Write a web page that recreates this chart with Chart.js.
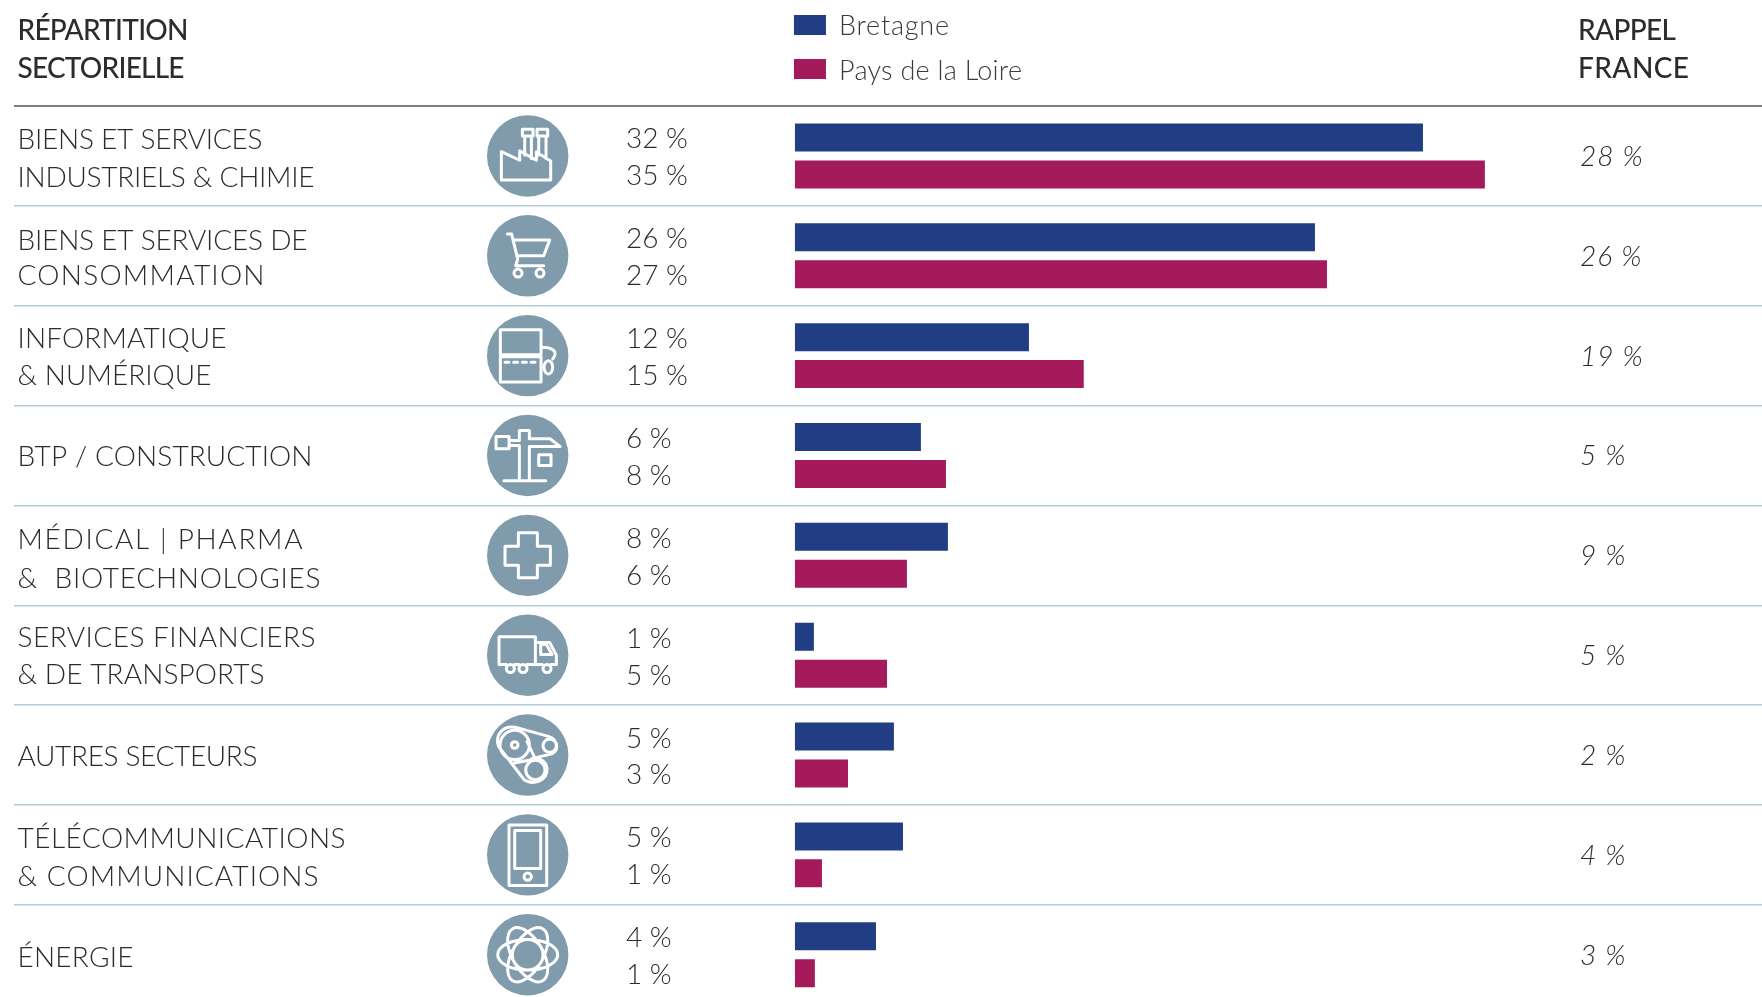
<!DOCTYPE html>
<html lang="fr">
<head>
<meta charset="utf-8">
<title>Répartition sectorielle</title>
<script src="https://cdn.jsdelivr.net/npm/chart.js@4/dist/chart.umd.min.js"></script>
<style>
html,body{margin:0;padding:0;background:#fff;overflow:hidden;width:1762px;height:997px}
#wrap{position:relative;width:1762px;height:1006px}
</style>
</head>
<body>
<div id="wrap"><canvas id="c"></canvas></div>
<script>
const categories = [
  ["BIENS ET SERVICES","INDUSTRIELS & CHIMIE"],
  ["BIENS ET SERVICES DE","CONSOMMATION"],
  ["INFORMATIQUE","& NUMÉRIQUE"],
  ["BTP / CONSTRUCTION"],
  ["MÉDICAL | PHARMA","&  BIOTECHNOLOGIES"],
  ["SERVICES FINANCIERS","& DE TRANSPORTS"],
  ["AUTRES SECTEURS"],
  ["TÉLÉCOMMUNICATIONS","& COMMUNICATIONS"],
  ["ÉNERGIE"]
];
const seriesNames = ["Bretagne","Pays de la Loire"];
const bretagne = [31.86,26.38,11.87,6.39,7.76,0.96,5.02,5.48,4.11];
const paysDeLaLoire = [35.0,26.99,14.65,7.66,5.68,4.67,2.69,1.37,1.01];
const bretagneLabels = ["32 %","26 %","12 %","6 %","8 %","1 %","5 %","5 %","4 %"];
const paysLabels = ["35 %","27 %","15 %","8 %","6 %","5 %","3 %","1 %","1 %"];
const franceLabels = ["28 %","26 %","19 %","5 %","9 %","5 %","2 %","4 %","3 %"];
const colors = ["#213e84","#a41a5b"];
const FONT = "Lato";

// Label layout: text widths and baselines relative to the row centre
const labelWidths = [[245,297],[290,247],[209,194],[295],[285,303],[298,247],[240],[328,301],[116]];
const labelBaselines = [[-6.7,31],[-5.7,29.3],[-7.3,29.8],[10.6],[-6.8,33],[-8.4,29.2],[11.2],[-7.3,30.9],[12.4]];

const txtCol = "#2c2c2e";
function rectP(c,x0,y0,x1,y1){c.moveTo(x0,y0);c.lineTo(x1,y0);c.lineTo(x1,y1);c.lineTo(x0,y1);c.closePath();}
function poly(c,pts,close){pts.forEach((p,i)=>i?c.lineTo(p[0],p[1]):c.moveTo(p[0],p[1]));if(close)c.closePath();}
function circ(c,x,y,r){c.moveTo(x+r,y);c.arc(x,y,r,0,Math.PI*2);}
// Icon line art, in zoom units (1/3 px) about the circle centre
const icons = [
  c=>{ // factory
    poly(c,[[-79,-13],[-79,72],[69,72],[69,15],[26,-12],[26,13],[-24,-15],[-24,13]],true);
    rectP(c,-16,-80,16,-60);rectP(c,28,-80,60,-60);
    poly(c,[[-9,-60],[-9,-3]]);poly(c,[[11,-60],[11,8]]);poly(c,[[33,-60],[33,-3]]);poly(c,[[55,-60],[55,8]]);
  },
  c=>{ // cart
    poly(c,[[-61,-65],[-48,-65],[-30,10],[-36,30],[48,30]]);
    poly(c,[[-44,-47],[66,-47],[48,0],[-33,0]]);
    circ(c,-29,52,12);circ(c,37,52,12);
  },
  c=>{ // computer
    rectP(c,-82,-78,40,-3);rectP(c,-82,3,40,79);
    for(let i=0;i<4;i++){poly(c,[[-68+i*26,20],[-56+i*26,20]]);}
    c.moveTo(40,-25);c.bezierCurveTo(70,-25,95,-15,75,10);
    c.moveTo(75,35);c.ellipse(62,35,13,20,0,0,Math.PI*2);
  },
  c=>{ // crane
    rectP(c,-95,-57,-56,-20);
    poly(c,[[-56,-45],[-25,-45],[-25,-75],[5,-75],[5,-50],[67,-50],[97,-27],[5,-27],[5,76]]);
    poly(c,[[-56,-30],[-25,-30],[-25,76]]);
    poly(c,[[-71,76],[54,76]]);
    rectP(c,33,-2,70,30);
  },
  c=>{ // cross
    poly(c,[[-28,-68],[29,-68],[29,-27],[68,-27],[68,30],[29,30],[29,67],[-28,67],[-28,30],[-68,30],[-68,-27],[-28,-27]],true);
  },
  c=>{ // truck
    poly(c,[[-64,28],[-86,28],[-86,-55],[23,-55],[23,28],[-2,28]]);
    poly(c,[[-26,28],[-40,28]]);
    poly(c,[[23,-38],[66,-38],[86,0],[86,28],[70,28]]);
    poly(c,[[44,28],[23,28]]);
    poly(c,[[39,-32],[56,-32],[73,-2],[39,-2]],true);
    circ(c,-52,40,12);circ(c,-14,40,12);circ(c,58,40,12);
  },
  c=>{ // belt
    c.moveTo(-29,-30);c.arc(-39,-30,10,0,Math.PI*2);
    c.moveTo(-35,-83);c.bezierCurveTo(-75,-90,-100,-60,-87,-25);c.lineTo(-10,75);
    c.bezierCurveTo(15,90,60,80,58,40);c.bezierCurveTo(55,20,40,10,25,12);
    c.lineTo(-40,24);
    c.moveTo(-35,-83);c.lineTo(62,-56);c.bezierCurveTo(95,-45,95,-5,65,-2);c.lineTo(10,12);
    c.moveTo(-2,-40);c.lineTo(22,10);
    circ(c,-39,-30,44);circ(c,66,-28,20);circ(c,23,45,29);
  },
  c=>{ // phone
    rectP(c,-56,-90,57,92);rectP(c,-39,-73,39,41);circ(c,0,65,11);
  },
  c=>{ // atom
    circ(c,0,0,46);
    [0,Math.PI/3,-Math.PI/3].forEach(a=>{
      c.moveTo(90*Math.cos(a),90*Math.sin(a));
      c.ellipse(0,0,90,46,a,0,Math.PI*2);
    });
  }
];

function text(c,s,x,y,font,col,ls){c.font=font;c.fillStyle=col;c.letterSpacing=ls||"0px";c.textAlign="left";c.textBaseline="alphabetic";c.fillText(s,x,y);}
// Draw text so that it spans the given width, by adjusting letter spacing
function fit(c,s,x,y,font,col,w){
  c.font=font;c.letterSpacing="0px";
  const ls=(w-c.measureText(s).width)/Math.max(1,s.length-1);
  text(c,s,x,y,font,col,ls.toFixed(3)+"px");
}

const overlay = {
  id:"overlay",
  afterDatasetsDraw(chart){
    const c = chart.ctx, yS = chart.scales.y;
    c.save();
    // headers
    const hf = `500 28px ${FONT}`;
    fit(c,"RÉPARTITION",17.5,40,hf,txtCol,171);
    fit(c,"SECTORIELLE",17.5,78,hf,txtCol,167);
    fit(c,"RAPPEL",1578,40,hf,txtCol,98);
    fit(c,"FRANCE",1578,78,hf,txtCol,111);
    // legend, from the datasets
    const lx = chart.scales.x.getPixelForValue(0)-1;
    chart.data.datasets.forEach((d,i)=>{
      const top = i?59:15;
      c.fillStyle = d.backgroundColor;
      c.fillRect(lx,top,32,20);
      fit(c,d.label,839,(i?80:35),`300 27px ${FONT}`,"#3a3a3c",i?183:110);
    });
    // category labels, values and icons
    const m0 = chart.getDatasetMeta(0), m1 = chart.getDatasetMeta(1);
    categories.forEach((cat,i)=>{
      const cy = yS.getPixelForTick(i);
      cat.forEach((line,j)=>{
        fit(c,line,17.5,cy+labelBaselines[i][j],`300 28px ${FONT}`,txtCol,labelWidths[i][j]);
      });
      text(c,bretagneLabels[i],626,m0.data[i].y+11,`300 28px ${FONT}`,txtCol);
      text(c,paysLabels[i],626,m1.data[i].y+11,`300 28px ${FONT}`,txtCol);
      text(c,franceLabels[i],1580,cy+10,`italic 300 28px ${FONT}`,txtCol,"1px");
      c.save();
      c.translate(527.7,cy);
      c.fillStyle="#7f9bac";
      c.beginPath();c.arc(0,0,40.7,0,Math.PI*2);c.fill();
      c.scale(1/3,1/3);
      c.strokeStyle="#fff";c.lineWidth=9;c.lineJoin="round";c.lineCap="round";
      c.beginPath();icons[i](c);c.stroke();
      c.restore();
    });
    c.restore();
  }
};

new Chart(document.getElementById("c"),{
  type:"bar",
  data:{
    labels:categories,
    datasets:[
      {label:seriesNames[0],data:bretagne,backgroundColor:colors[0]},
      {label:seriesNames[1],data:paysDeLaLoire,backgroundColor:colors[1]}
    ]
  },
  options:{
    indexAxis:"y",
    responsive:true,
    maintainAspectRatio:false,
    animation:false,
    layout:{padding:{left:14,right:0,top:106,bottom:1.35}},
    categoryPercentage:0.74,
    barPercentage:0.757,
    plugins:{legend:{display:false},tooltip:{enabled:false},title:{display:false}},
    scales:{
      x:{type:"linear",min:-39.62,max:49.06,display:false,grid:{display:false},
         afterFit:s=>{s.paddingLeft=0;s.paddingRight=0;}},
      y:{
        type:"category",
        position:"left",
        offset:true,
        border:{display:false},
        afterFit:s=>{s.width=0;s.paddingTop=0;s.paddingBottom=0;},
        grid:{
          offset:true,
          drawTicks:false,
          color:ctx=>ctx.index===0?"#7f7f7f":"#b4cad8",
          lineWidth:ctx=>ctx.index===0?2:1.5
        },
        ticks:{display:false,autoSkip:false}
      }
    }
  },
  plugins:[overlay]
});
</script>
</body>
</html>
